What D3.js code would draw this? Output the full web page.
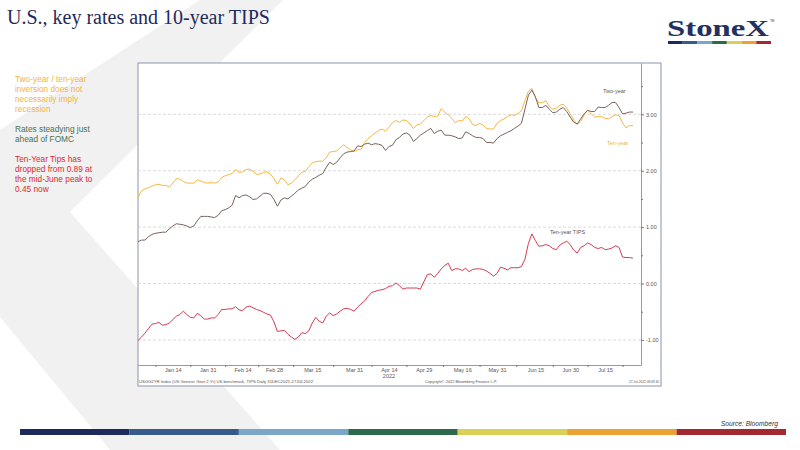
<!DOCTYPE html>
<html>
<head>
<meta charset="utf-8">
<script src="https://cdn.jsdelivr.net/npm/d3@7"></script>
<style>
  body { margin: 0; background: #fff; }
  svg { display: block; }
</style>
</head>
<body>
<svg id="chart" width="800" height="450"></svg>
<script>
// daily closes, 31 Dec 2021 .. 27 Jul 2022 (index = trading day)
var twoYear = [0.74,0.77,0.77,0.83,0.87,0.89,0.90,0.91,0.91,0.97,
  1.02,1.06,1.05,1.04,1.02,0.99,1.02,1.11,1.19,1.19,
  1.19,1.18,1.17,1.21,1.29,1.31,1.34,1.39,1.56,1.52,
  1.56,1.57,1.54,1.49,1.50,1.55,1.60,1.60,1.58,1.49,
  1.37,1.48,1.52,1.50,1.55,1.60,1.66,1.69,1.72,1.80,
  1.85,1.88,1.92,1.95,2.06,2.15,2.11,2.15,2.23,2.30,
  2.33,2.34,2.35,2.44,2.43,2.47,2.49,2.46,2.48,2.47,
  2.45,2.36,2.43,2.45,2.55,2.59,2.65,2.67,2.63,2.52,
  2.57,2.63,2.67,2.71,2.75,2.66,2.70,2.72,2.63,2.63,
  2.62,2.60,2.57,2.58,2.69,2.66,2.62,2.59,2.59,2.57,
  2.50,2.50,2.49,2.57,2.62,2.65,2.68,2.71,2.75,2.79,
  2.84,3.09,3.34,3.43,3.31,3.12,3.12,3.16,3.09,3.03,
  3.04,3.09,3.12,3.05,2.95,2.86,2.83,2.92,3.01,3.07,
  3.05,3.05,3.13,3.12,3.12,3.16,3.21,3.21,3.12,3.01,
  3.02,3.04,3.04];

var tenYear = [1.53,1.64,1.68,1.70,1.73,1.75,1.76,1.74,1.74,1.71,
  1.78,1.86,1.85,1.81,1.78,1.78,1.78,1.84,1.82,1.79,
  1.78,1.79,1.78,1.80,1.88,1.91,1.93,1.95,2.02,1.97,
  1.98,2.02,2.03,1.99,1.94,1.94,1.97,1.98,1.94,1.86,
  1.76,1.87,1.84,1.75,1.78,1.84,1.91,1.97,1.99,2.07,
  2.14,2.16,2.17,2.17,2.23,2.33,2.34,2.35,2.41,2.46,
  2.41,2.37,2.34,2.37,2.38,2.50,2.57,2.62,2.67,2.71,
  2.74,2.70,2.77,2.85,2.89,2.86,2.90,2.89,2.83,2.75,
  2.81,2.83,2.89,2.95,2.98,2.96,2.97,3.10,3.04,2.99,
  2.93,2.85,2.89,2.88,2.96,2.92,2.82,2.80,2.84,2.81,
  2.75,2.74,2.74,2.84,2.89,2.92,2.96,2.99,2.98,3.02,
  3.06,3.24,3.41,3.46,3.30,3.20,3.21,3.24,3.14,3.09,
  3.11,3.16,3.18,3.11,3.01,2.90,2.82,2.87,2.99,3.08,
  3.01,2.95,2.96,2.96,2.93,2.92,2.96,2.99,2.98,2.85,
  2.76,2.80,2.80];

var tips = [-1.01,-0.95,-0.88,-0.80,-0.72,-0.71,-0.69,-0.74,-0.73,-0.70,
  -0.64,-0.58,-0.55,-0.49,-0.55,-0.60,-0.61,-0.53,-0.57,-0.63,
  -0.63,-0.61,-0.61,-0.55,-0.46,-0.46,-0.45,-0.45,-0.41,-0.47,
  -0.48,-0.42,-0.40,-0.43,-0.46,-0.48,-0.51,-0.54,-0.56,-0.68,
  -0.85,-0.84,-0.83,-0.90,-0.95,-0.99,-0.95,-0.87,-0.89,-0.84,
  -0.70,-0.60,-0.67,-0.70,-0.58,-0.52,-0.57,-0.54,-0.49,-0.45,
  -0.44,-0.46,-0.49,-0.42,-0.36,-0.31,-0.23,-0.16,-0.14,-0.12,
  -0.11,-0.09,-0.05,-0.04,0.01,-0.04,-0.10,-0.08,-0.08,-0.08,
  -0.08,-0.10,0.03,0.16,0.17,0.11,0.18,0.26,0.32,0.36,
  0.23,0.26,0.26,0.23,0.27,0.21,0.25,0.26,0.26,0.25,
  0.22,0.18,0.13,0.18,0.29,0.27,0.24,0.28,0.28,0.28,
  0.30,0.43,0.71,0.88,0.76,0.66,0.67,0.69,0.67,0.62,
  0.60,0.68,0.72,0.75,0.69,0.59,0.54,0.64,0.67,0.72,
  0.69,0.64,0.62,0.64,0.60,0.61,0.63,0.67,0.64,0.47,
  0.46,0.46,0.45];

var tickDays = [10, 20, 30, 39, 50, 62, 72, 82, 93, 103, 114, 124, 134];
var tickLabels = ["Jan 14", "Jan 31", "Feb 14", "Feb 28", "Mar 15", "Mar 31", "Apr 14",
  "Apr 29", "May 16", "May 31", "Jun 15", "Jun 30", "Jul 15"];
var yTicks = [-1, 0, 1, 2, 3];
var yMinorTicks = [-0.5, 0.5, 1.5, 2.5, 3.5];

var noteYellow = ["Two-year / ten-year", "inversion does not", "necessarily imply", "recession"];
var noteGreen = ["Rates steadying just", "ahead of FOMC"];
var noteRed = ["Ten-Year Tips has", "dropped from 0.89 at", "the mid-June peak to", "0.45 now"];

var brandColors = ["#1f2a5c", "#355a8b", "#7ba6c7", "#2b6a4b", "#dacf57", "#e9a233", "#a3282f"];

var svg = d3.select("#chart");
var sans = "'Liberation Sans', Arial, sans-serif";

// background chevron
svg.append("polygon")
  .attr("points", "200,0 283,0 70,212 280,450 110,450 0,317 0,130")
  .attr("fill", "#f1f1f1");

// title
svg.append("text")
  .attr("x", 7).attr("y", 24)
  .style("font-family", "'Liberation Serif', 'Times New Roman', serif")
  .style("font-size", "20px")
  .attr("fill", "#1f2a5c")
  .text("U.S., key rates and 10-year TIPS");

// logo
svg.append("text")
  .attr("x", 667).attr("y", 36)
  .attr("textLength", 102).attr("lengthAdjust", "spacingAndGlyphs")
  .style("font-family", "'Liberation Serif', 'Times New Roman', serif")
  .style("font-size", "24px").style("font-weight", "bold")
  .attr("fill", "#24305f")
  .text("StoneX");
svg.append("text")
  .attr("x", 770).attr("y", 22)
  .style("font-family", sans).style("font-size", "3px")
  .attr("fill", "#1f2a5c").text("TM");

var logoBar = d3.scaleBand().domain(d3.range(brandColors.length)).range([668, 771]);
svg.append("g").selectAll("rect").data(brandColors).enter().append("rect")
  .attr("x", (d, i) => logoBar(i)).attr("y", 41)
  .attr("width", logoBar.bandwidth()).attr("height", 3)
  .attr("fill", (d) => d);

// notes on the left
function notes(lines, y0, color) {
  svg.append("g").selectAll("text").data(lines).enter().append("text")
    .attr("x", 15).attr("y", (d, i) => y0 + i * 10)
    .style("font-family", sans).style("font-size", "8.3px")
    .attr("fill", color).text((d) => d);
}
notes(noteYellow, 82, "#f4b43a");
notes(noteGreen, 132, "#48734f");
notes(noteRed, 162, "#dc2a30");

// chart frame
var plot = { left: 138, top: 63, right: 641, bottom: 365 };
svg.append("rect")
  .attr("x", 138).attr("y", 63).attr("width", 523).attr("height", 323)
  .attr("fill", "#fff").attr("stroke", "#8a93ae").attr("stroke-width", 1);

var xScale = d3.scaleLinear().domain([0, 144.3]).range([plot.left, plot.right]);
var yScale = d3.scaleLinear().domain([-1.445, 3.91]).range([plot.bottom, plot.top]);

// grid
svg.append("g").selectAll("line").data(yTicks).enter().append("line")
  .attr("x1", plot.left).attr("x2", plot.right)
  .attr("y1", (d) => yScale(d)).attr("y2", (d) => yScale(d))
  .attr("stroke", "#d2d2d2").attr("stroke-dasharray", "3,2").attr("stroke-width", 0.8);

// right axis
var yAxis = d3.axisRight(yScale).tickValues(yTicks)
  .tickFormat((d) => d.toFixed(2)).tickSize(3).tickSizeOuter(0).tickPadding(2);
var gy = svg.append("g").attr("transform", `translate(${plot.right},0)`).call(yAxis);
gy.select(".domain").attr("stroke", "#9a9a9a");
gy.selectAll(".tick line").attr("stroke", "#777");
gy.selectAll("text").style("font-family", sans).style("font-size", "5.5px").attr("fill", "#555");

var yMinor = d3.axisRight(yScale).tickValues(yMinorTicks).tickFormat("").tickSize(2).tickSizeOuter(0);
var gym = svg.append("g").attr("transform", `translate(${plot.right},0)`).call(yMinor);
gym.select(".domain").remove();
gym.selectAll(".tick line").attr("stroke", "#777");

// bottom axis
var xAxis = d3.axisBottom(xScale).tickValues(tickDays)
  .tickFormat((d, i) => tickLabels[i]).tickSize(0).tickSizeOuter(0).tickPadding(3);
var gx = svg.append("g").attr("transform", `translate(0,${plot.bottom})`).call(xAxis);
gx.select(".domain").attr("stroke", "#9a9a9a");
gx.selectAll("text").style("font-family", sans).style("font-size", "5.5px").attr("fill", "#555");

var minorDays = tickDays.map((d, i) => (i === 0 ? d - 5 : (d + tickDays[i - 1]) / 2));
minorDays.push(139);
var xMinor = d3.axisBottom(xScale).tickValues(minorDays).tickFormat("").tickSize(2).tickSizeOuter(0);
var gxm = svg.append("g").attr("transform", `translate(0,${plot.bottom})`).call(xMinor);
gxm.select(".domain").remove();
gxm.selectAll(".tick line").attr("stroke", "#777");

svg.append("text")
  .attr("x", xScale(72)).attr("y", 378).attr("text-anchor", "middle")
  .style("font-family", sans).style("font-size", "5.5px").attr("fill", "#555")
  .text("2022");

// lines
var line = d3.line().x((d, i) => xScale(i)).y((d) => yScale(d));
svg.append("path").datum(tenYear).attr("d", line)
  .attr("fill", "none").attr("stroke", "#f5b83f").attr("stroke-width", 1);
svg.append("path").datum(twoYear).attr("d", line)
  .attr("fill", "none").attr("stroke", "#76645f").attr("stroke-width", 1);
svg.append("path").datum(tips).attr("d", line)
  .attr("fill", "none").attr("stroke", "#d63a4f").attr("stroke-width", 1);

// series labels
function seriesLabel(txt, x, y, color) {
  svg.append("text").attr("x", x).attr("y", y)
    .style("font-family", sans).style("font-size", "5.5px")
    .attr("fill", color).text(txt);
}
seriesLabel("Two-year", 603, 93, "#4f5f52");
seriesLabel("Ten-year", 607, 145, "#f2b134");
seriesLabel("Ten-year TIPS", 550, 234, "#555");

// footer inside chart
function footer(txt, x, anchor, len) {
  svg.append("text").attr("x", x).attr("y", 383).attr("text-anchor", anchor)
    .attr("textLength", len).attr("lengthAdjust", "spacingAndGlyphs")
    .style("font-family", sans).style("font-size", "4.2px").attr("fill", "#555")
    .text(txt);
}
footer("USGG2YR Index (US Generic Govt 2 Yr) US benchmark, TIPS  Daily 31DEC2021-27JUL2022", 139, "start", 174);
footer("Copyright\u00a9 2022 Bloomberg Finance L.P.", 461, "middle", 72);
footer("27-Jul-2022 08:49:30", 659, "end", 30);

// source and bottom bar
svg.append("text")
  .attr("x", 778).attr("y", 426).attr("text-anchor", "end")
  .style("font-family", sans).style("font-size", "6.7px").style("font-style", "italic")
  .attr("fill", "#333").text("Source: Bloomberg");

var footBar = d3.scaleBand().domain(d3.range(brandColors.length)).range([20, 786]);
svg.append("g").selectAll("rect").data(brandColors).enter().append("rect")
  .attr("x", (d, i) => footBar(i)).attr("y", 429)
  .attr("width", footBar.bandwidth()).attr("height", 6)
  .attr("fill", (d) => d);
</script>
</body>
</html>
